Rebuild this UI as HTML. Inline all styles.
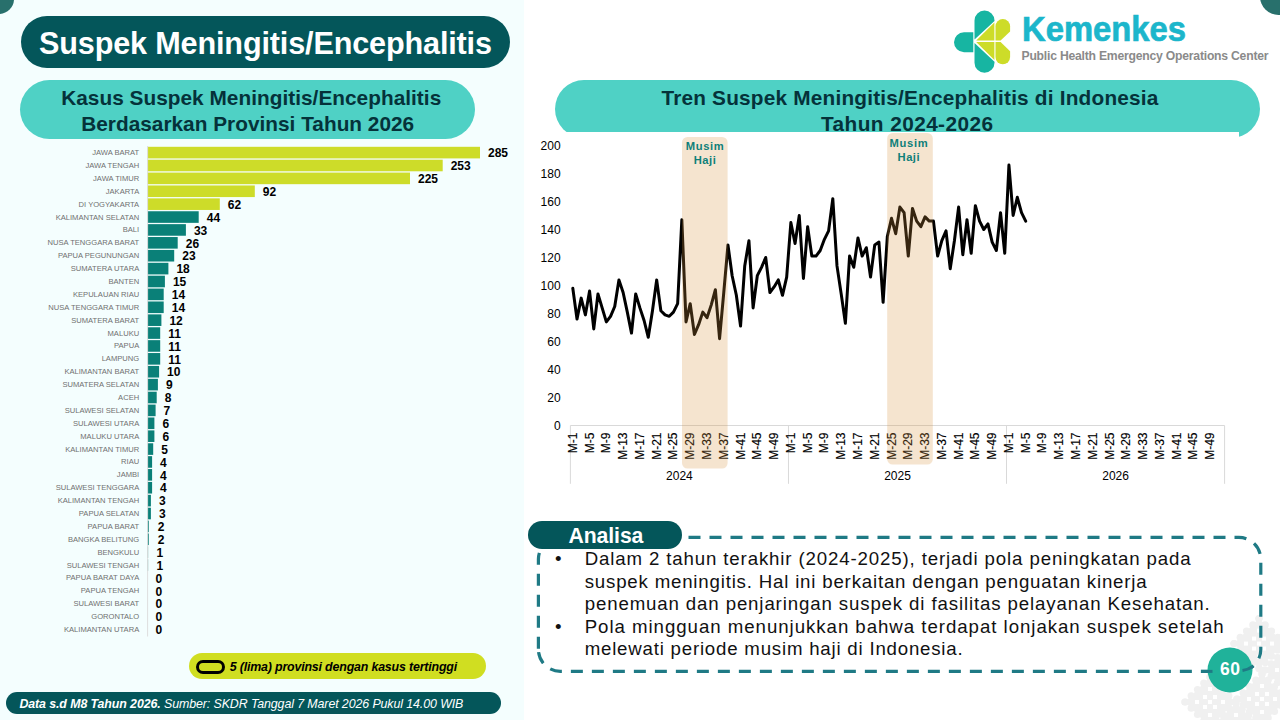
<!DOCTYPE html>
<html lang="id"><head><meta charset="utf-8"><title>Suspek Meningitis/Encephalitis</title>
<style>
html,body{margin:0;padding:0}
body{width:1280px;height:720px;overflow:hidden;position:relative;background:#fff;font-family:"Liberation Sans",sans-serif}
.abs,.t{position:absolute}
.t{white-space:nowrap}
.pill{position:absolute;border-radius:999px}
svg{position:absolute;left:0;top:0}
</style></head><body>

<div class="abs" style="left:0;top:0;width:524px;height:720px;background:#f4fefe"></div>
<div class="abs" style="left:-16px;top:-16px;width:30px;height:30px;border-radius:50%;background:#28706c"></div>
<div class="abs" style="left:1260px;top:-22.5px;width:37px;height:37px;border-radius:50%;background:#28706c"></div>
<div class="pill" style="left:21px;top:16px;width:489px;height:52px;background:#04565a"></div>
<div class="t" id="title" style="top:28.10px;font-size:30.6px;line-height:30.6px;font-weight:700;color:#fff;letter-spacing:-0.149px;font-family:'Liberation Sans',sans-serif;left:39.00px;"><span>Suspek Meningitis/Encephalitis</span></div>
<div class="pill" style="left:19.5px;top:80px;width:455px;height:59px;background:#4fd1c5"></div>
<div class="t" id="lh1" style="top:87.89px;font-size:20.8px;line-height:20.8px;font-weight:700;color:#05323a;letter-spacing:0.027px;font-family:'Liberation Sans',sans-serif;left:61.20px;"><span>Kasus Suspek Meningitis/Encephalitis</span></div>
<div class="t" id="lh2" style="top:113.89px;font-size:20.8px;line-height:20.8px;font-weight:700;color:#05323a;letter-spacing:0.016px;font-family:'Liberation Sans',sans-serif;left:81.20px;"><span>Berdasarkan Provinsi Tahun 2026</span></div>
<div class="pill" style="left:555px;top:80px;width:705px;height:58px;background:#4fd1c5"></div>
<div class="t" id="rh1" style="top:88.09px;font-size:20.8px;line-height:20.8px;font-weight:700;color:#05323a;letter-spacing:0.198px;font-family:'Liberation Sans',sans-serif;left:661.40px;"><span>Tren Suspek Meningitis/Encephalitis di Indonesia</span></div>
<div class="t" id="rh2" style="top:113.99px;font-size:20.8px;line-height:20.8px;font-weight:700;color:#05323a;letter-spacing:0.424px;font-family:'Liberation Sans',sans-serif;left:821.00px;"><span>Tahun 2024-2026</span></div>
<div class="abs" style="left:530px;top:131.5px;width:709px;height:370px;background:#fff"></div>
<svg width="1280" height="720" viewBox="0 0 1280 720">
<rect x="147.4" y="146.80" width="332.6" height="11.6" fill="#cddc29"/>
<rect x="147.4" y="159.69" width="295.3" height="11.6" fill="#cddc29"/>
<rect x="147.4" y="172.58" width="262.6" height="11.6" fill="#cddc29"/>
<rect x="147.4" y="185.47" width="107.4" height="11.6" fill="#cddc29"/>
<rect x="147.4" y="198.36" width="72.4" height="11.6" fill="#cddc29"/>
<rect x="147.4" y="211.25" width="51.3" height="11.6" fill="#0a8078"/>
<rect x="147.4" y="224.14" width="38.5" height="11.6" fill="#0a8078"/>
<rect x="147.4" y="237.03" width="30.3" height="11.6" fill="#0a8078"/>
<rect x="147.4" y="249.92" width="26.8" height="11.6" fill="#0a8078"/>
<rect x="147.4" y="262.81" width="21.0" height="11.6" fill="#0a8078"/>
<rect x="147.4" y="275.70" width="17.5" height="11.6" fill="#0a8078"/>
<rect x="147.4" y="288.59" width="16.3" height="11.6" fill="#0a8078"/>
<rect x="147.4" y="301.48" width="16.3" height="11.6" fill="#0a8078"/>
<rect x="147.4" y="314.37" width="14.0" height="11.6" fill="#0a8078"/>
<rect x="147.4" y="327.26" width="12.8" height="11.6" fill="#0a8078"/>
<rect x="147.4" y="340.15" width="12.8" height="11.6" fill="#0a8078"/>
<rect x="147.4" y="353.04" width="12.8" height="11.6" fill="#0a8078"/>
<rect x="147.4" y="365.93" width="11.7" height="11.6" fill="#0a8078"/>
<rect x="147.4" y="378.82" width="10.5" height="11.6" fill="#0a8078"/>
<rect x="147.4" y="391.71" width="9.3" height="11.6" fill="#0a8078"/>
<rect x="147.4" y="404.60" width="8.2" height="11.6" fill="#0a8078"/>
<rect x="147.4" y="417.49" width="7.0" height="11.6" fill="#0a8078"/>
<rect x="147.4" y="430.38" width="7.0" height="11.6" fill="#0a8078"/>
<rect x="147.4" y="443.27" width="5.8" height="11.6" fill="#0a8078"/>
<rect x="147.4" y="456.16" width="4.7" height="11.6" fill="#0a8078"/>
<rect x="147.4" y="469.05" width="4.7" height="11.6" fill="#0a8078"/>
<rect x="147.4" y="481.94" width="4.7" height="11.6" fill="#0a8078"/>
<rect x="147.4" y="494.83" width="3.5" height="11.6" fill="#0a8078"/>
<rect x="147.4" y="507.72" width="3.5" height="11.6" fill="#0a8078"/>
<rect x="147.4" y="520.61" width="1.4" height="11.6" fill="#0a8078"/>
<rect x="147.4" y="533.50" width="1.4" height="11.6" fill="#0a8078"/>
<rect x="147.4" y="546.39" width="0.7" height="11.6" fill="#0a8078"/>
<rect x="147.4" y="559.28" width="0.7" height="11.6" fill="#0a8078"/>
<path d="M147.6 146 V636.5" stroke="#dedede" stroke-width="1"/>
</svg>
<div class="t" id="pl0" style="top:149.07px;font-size:7.6px;line-height:7.6px;font-weight:400;color:#707070;letter-spacing:0.000px;font-family:'Liberation Sans',sans-serif;right:1140.80px;"><span>JAWA BARAT</span></div>
<div class="t" id="pv0" style="top:147.34px;font-size:12px;line-height:12px;font-weight:700;color:#000;letter-spacing:0.000px;font-family:'Liberation Sans',sans-serif;left:488.00px;"><span>285</span></div>
<div class="t" id="pl1" style="top:161.96px;font-size:7.6px;line-height:7.6px;font-weight:400;color:#707070;letter-spacing:0.000px;font-family:'Liberation Sans',sans-serif;right:1140.80px;"><span>JAWA TENGAH</span></div>
<div class="t" id="pv1" style="top:160.23px;font-size:12px;line-height:12px;font-weight:700;color:#000;letter-spacing:0.000px;font-family:'Liberation Sans',sans-serif;left:450.65px;"><span>253</span></div>
<div class="t" id="pl2" style="top:174.85px;font-size:7.6px;line-height:7.6px;font-weight:400;color:#707070;letter-spacing:0.000px;font-family:'Liberation Sans',sans-serif;right:1140.80px;"><span>JAWA TIMUR</span></div>
<div class="t" id="pv2" style="top:173.12px;font-size:12px;line-height:12px;font-weight:700;color:#000;letter-spacing:0.000px;font-family:'Liberation Sans',sans-serif;left:417.98px;"><span>225</span></div>
<div class="t" id="pl3" style="top:187.74px;font-size:7.6px;line-height:7.6px;font-weight:400;color:#707070;letter-spacing:0.000px;font-family:'Liberation Sans',sans-serif;right:1140.80px;"><span>JAKARTA</span></div>
<div class="t" id="pv3" style="top:186.01px;font-size:12px;line-height:12px;font-weight:700;color:#000;letter-spacing:0.000px;font-family:'Liberation Sans',sans-serif;left:262.76px;"><span>92</span></div>
<div class="t" id="pl4" style="top:200.63px;font-size:7.6px;line-height:7.6px;font-weight:400;color:#707070;letter-spacing:0.000px;font-family:'Liberation Sans',sans-serif;right:1140.80px;"><span>DI YOGYAKARTA</span></div>
<div class="t" id="pv4" style="top:198.90px;font-size:12px;line-height:12px;font-weight:700;color:#000;letter-spacing:0.000px;font-family:'Liberation Sans',sans-serif;left:227.75px;"><span>62</span></div>
<div class="t" id="pl5" style="top:213.52px;font-size:7.6px;line-height:7.6px;font-weight:400;color:#707070;letter-spacing:0.000px;font-family:'Liberation Sans',sans-serif;right:1140.80px;"><span>KALIMANTAN SELATAN</span></div>
<div class="t" id="pv5" style="top:211.79px;font-size:12px;line-height:12px;font-weight:700;color:#000;letter-spacing:0.000px;font-family:'Liberation Sans',sans-serif;left:206.75px;"><span>44</span></div>
<div class="t" id="pl6" style="top:226.41px;font-size:7.6px;line-height:7.6px;font-weight:400;color:#707070;letter-spacing:0.000px;font-family:'Liberation Sans',sans-serif;right:1140.80px;"><span>BALI</span></div>
<div class="t" id="pv6" style="top:224.68px;font-size:12px;line-height:12px;font-weight:700;color:#000;letter-spacing:0.000px;font-family:'Liberation Sans',sans-serif;left:193.91px;"><span>33</span></div>
<div class="t" id="pl7" style="top:239.30px;font-size:7.6px;line-height:7.6px;font-weight:400;color:#707070;letter-spacing:0.000px;font-family:'Liberation Sans',sans-serif;right:1140.80px;"><span>NUSA TENGGARA BARAT</span></div>
<div class="t" id="pv7" style="top:237.57px;font-size:12px;line-height:12px;font-weight:700;color:#000;letter-spacing:0.000px;font-family:'Liberation Sans',sans-serif;left:185.74px;"><span>26</span></div>
<div class="t" id="pl8" style="top:252.19px;font-size:7.6px;line-height:7.6px;font-weight:400;color:#707070;letter-spacing:0.000px;font-family:'Liberation Sans',sans-serif;right:1140.80px;"><span>PAPUA PEGUNUNGAN</span></div>
<div class="t" id="pv8" style="top:250.46px;font-size:12px;line-height:12px;font-weight:700;color:#000;letter-spacing:0.000px;font-family:'Liberation Sans',sans-serif;left:182.24px;"><span>23</span></div>
<div class="t" id="pl9" style="top:265.08px;font-size:7.6px;line-height:7.6px;font-weight:400;color:#707070;letter-spacing:0.000px;font-family:'Liberation Sans',sans-serif;right:1140.80px;"><span>SUMATERA UTARA</span></div>
<div class="t" id="pv9" style="top:263.35px;font-size:12px;line-height:12px;font-weight:700;color:#000;letter-spacing:0.000px;font-family:'Liberation Sans',sans-serif;left:176.41px;"><span>18</span></div>
<div class="t" id="pl10" style="top:277.97px;font-size:7.6px;line-height:7.6px;font-weight:400;color:#707070;letter-spacing:0.000px;font-family:'Liberation Sans',sans-serif;right:1140.80px;"><span>BANTEN</span></div>
<div class="t" id="pv10" style="top:276.24px;font-size:12px;line-height:12px;font-weight:700;color:#000;letter-spacing:0.000px;font-family:'Liberation Sans',sans-serif;left:172.91px;"><span>15</span></div>
<div class="t" id="pl11" style="top:290.86px;font-size:7.6px;line-height:7.6px;font-weight:400;color:#707070;letter-spacing:0.000px;font-family:'Liberation Sans',sans-serif;right:1140.80px;"><span>KEPULAUAN RIAU</span></div>
<div class="t" id="pv11" style="top:289.13px;font-size:12px;line-height:12px;font-weight:700;color:#000;letter-spacing:0.000px;font-family:'Liberation Sans',sans-serif;left:171.74px;"><span>14</span></div>
<div class="t" id="pl12" style="top:303.75px;font-size:7.6px;line-height:7.6px;font-weight:400;color:#707070;letter-spacing:0.000px;font-family:'Liberation Sans',sans-serif;right:1140.80px;"><span>NUSA TENGGARA TIMUR</span></div>
<div class="t" id="pv12" style="top:302.02px;font-size:12px;line-height:12px;font-weight:700;color:#000;letter-spacing:0.000px;font-family:'Liberation Sans',sans-serif;left:171.74px;"><span>14</span></div>
<div class="t" id="pl13" style="top:316.64px;font-size:7.6px;line-height:7.6px;font-weight:400;color:#707070;letter-spacing:0.000px;font-family:'Liberation Sans',sans-serif;right:1140.80px;"><span>SUMATERA BARAT</span></div>
<div class="t" id="pv13" style="top:314.91px;font-size:12px;line-height:12px;font-weight:700;color:#000;letter-spacing:0.000px;font-family:'Liberation Sans',sans-serif;left:169.40px;"><span>12</span></div>
<div class="t" id="pl14" style="top:329.53px;font-size:7.6px;line-height:7.6px;font-weight:400;color:#707070;letter-spacing:0.000px;font-family:'Liberation Sans',sans-serif;right:1140.80px;"><span>MALUKU</span></div>
<div class="t" id="pv14" style="top:327.80px;font-size:12px;line-height:12px;font-weight:700;color:#000;letter-spacing:0.000px;font-family:'Liberation Sans',sans-serif;left:168.24px;"><span>11</span></div>
<div class="t" id="pl15" style="top:342.42px;font-size:7.6px;line-height:7.6px;font-weight:400;color:#707070;letter-spacing:0.000px;font-family:'Liberation Sans',sans-serif;right:1140.80px;"><span>PAPUA</span></div>
<div class="t" id="pv15" style="top:340.69px;font-size:12px;line-height:12px;font-weight:700;color:#000;letter-spacing:0.000px;font-family:'Liberation Sans',sans-serif;left:168.24px;"><span>11</span></div>
<div class="t" id="pl16" style="top:355.31px;font-size:7.6px;line-height:7.6px;font-weight:400;color:#707070;letter-spacing:0.000px;font-family:'Liberation Sans',sans-serif;right:1140.80px;"><span>LAMPUNG</span></div>
<div class="t" id="pv16" style="top:353.58px;font-size:12px;line-height:12px;font-weight:700;color:#000;letter-spacing:0.000px;font-family:'Liberation Sans',sans-serif;left:168.24px;"><span>11</span></div>
<div class="t" id="pl17" style="top:368.20px;font-size:7.6px;line-height:7.6px;font-weight:400;color:#707070;letter-spacing:0.000px;font-family:'Liberation Sans',sans-serif;right:1140.80px;"><span>KALIMANTAN BARAT</span></div>
<div class="t" id="pv17" style="top:366.47px;font-size:12px;line-height:12px;font-weight:700;color:#000;letter-spacing:0.000px;font-family:'Liberation Sans',sans-serif;left:167.07px;"><span>10</span></div>
<div class="t" id="pl18" style="top:381.09px;font-size:7.6px;line-height:7.6px;font-weight:400;color:#707070;letter-spacing:0.000px;font-family:'Liberation Sans',sans-serif;right:1140.80px;"><span>SUMATERA SELATAN</span></div>
<div class="t" id="pv18" style="top:379.36px;font-size:12px;line-height:12px;font-weight:700;color:#000;letter-spacing:0.000px;font-family:'Liberation Sans',sans-serif;left:165.90px;"><span>9</span></div>
<div class="t" id="pl19" style="top:393.98px;font-size:7.6px;line-height:7.6px;font-weight:400;color:#707070;letter-spacing:0.000px;font-family:'Liberation Sans',sans-serif;right:1140.80px;"><span>ACEH</span></div>
<div class="t" id="pv19" style="top:392.25px;font-size:12px;line-height:12px;font-weight:700;color:#000;letter-spacing:0.000px;font-family:'Liberation Sans',sans-serif;left:164.74px;"><span>8</span></div>
<div class="t" id="pl20" style="top:406.87px;font-size:7.6px;line-height:7.6px;font-weight:400;color:#707070;letter-spacing:0.000px;font-family:'Liberation Sans',sans-serif;right:1140.80px;"><span>SULAWESI SELATAN</span></div>
<div class="t" id="pv20" style="top:405.14px;font-size:12px;line-height:12px;font-weight:700;color:#000;letter-spacing:0.000px;font-family:'Liberation Sans',sans-serif;left:163.57px;"><span>7</span></div>
<div class="t" id="pl21" style="top:419.76px;font-size:7.6px;line-height:7.6px;font-weight:400;color:#707070;letter-spacing:0.000px;font-family:'Liberation Sans',sans-serif;right:1140.80px;"><span>SULAWESI UTARA</span></div>
<div class="t" id="pv21" style="top:418.03px;font-size:12px;line-height:12px;font-weight:700;color:#000;letter-spacing:0.000px;font-family:'Liberation Sans',sans-serif;left:162.40px;"><span>6</span></div>
<div class="t" id="pl22" style="top:432.65px;font-size:7.6px;line-height:7.6px;font-weight:400;color:#707070;letter-spacing:0.000px;font-family:'Liberation Sans',sans-serif;right:1140.80px;"><span>MALUKU UTARA</span></div>
<div class="t" id="pv22" style="top:430.92px;font-size:12px;line-height:12px;font-weight:700;color:#000;letter-spacing:0.000px;font-family:'Liberation Sans',sans-serif;left:162.40px;"><span>6</span></div>
<div class="t" id="pl23" style="top:445.54px;font-size:7.6px;line-height:7.6px;font-weight:400;color:#707070;letter-spacing:0.000px;font-family:'Liberation Sans',sans-serif;right:1140.80px;"><span>KALIMANTAN TIMUR</span></div>
<div class="t" id="pv23" style="top:443.81px;font-size:12px;line-height:12px;font-weight:700;color:#000;letter-spacing:0.000px;font-family:'Liberation Sans',sans-serif;left:161.24px;"><span>5</span></div>
<div class="t" id="pl24" style="top:458.43px;font-size:7.6px;line-height:7.6px;font-weight:400;color:#707070;letter-spacing:0.000px;font-family:'Liberation Sans',sans-serif;right:1140.80px;"><span>RIAU</span></div>
<div class="t" id="pv24" style="top:456.70px;font-size:12px;line-height:12px;font-weight:700;color:#000;letter-spacing:0.000px;font-family:'Liberation Sans',sans-serif;left:160.07px;"><span>4</span></div>
<div class="t" id="pl25" style="top:471.32px;font-size:7.6px;line-height:7.6px;font-weight:400;color:#707070;letter-spacing:0.000px;font-family:'Liberation Sans',sans-serif;right:1140.80px;"><span>JAMBI</span></div>
<div class="t" id="pv25" style="top:469.59px;font-size:12px;line-height:12px;font-weight:700;color:#000;letter-spacing:0.000px;font-family:'Liberation Sans',sans-serif;left:160.07px;"><span>4</span></div>
<div class="t" id="pl26" style="top:484.21px;font-size:7.6px;line-height:7.6px;font-weight:400;color:#707070;letter-spacing:0.000px;font-family:'Liberation Sans',sans-serif;right:1140.80px;"><span>SULAWESI TENGGARA</span></div>
<div class="t" id="pv26" style="top:482.48px;font-size:12px;line-height:12px;font-weight:700;color:#000;letter-spacing:0.000px;font-family:'Liberation Sans',sans-serif;left:160.07px;"><span>4</span></div>
<div class="t" id="pl27" style="top:497.10px;font-size:7.6px;line-height:7.6px;font-weight:400;color:#707070;letter-spacing:0.000px;font-family:'Liberation Sans',sans-serif;right:1140.80px;"><span>KALIMANTAN TENGAH</span></div>
<div class="t" id="pv27" style="top:495.37px;font-size:12px;line-height:12px;font-weight:700;color:#000;letter-spacing:0.000px;font-family:'Liberation Sans',sans-serif;left:158.90px;"><span>3</span></div>
<div class="t" id="pl28" style="top:509.99px;font-size:7.6px;line-height:7.6px;font-weight:400;color:#707070;letter-spacing:0.000px;font-family:'Liberation Sans',sans-serif;right:1140.80px;"><span>PAPUA SELATAN</span></div>
<div class="t" id="pv28" style="top:508.26px;font-size:12px;line-height:12px;font-weight:700;color:#000;letter-spacing:0.000px;font-family:'Liberation Sans',sans-serif;left:158.90px;"><span>3</span></div>
<div class="t" id="pl29" style="top:522.88px;font-size:7.6px;line-height:7.6px;font-weight:400;color:#707070;letter-spacing:0.000px;font-family:'Liberation Sans',sans-serif;right:1140.80px;"><span>PAPUA BARAT</span></div>
<div class="t" id="pv29" style="top:521.15px;font-size:12px;line-height:12px;font-weight:700;color:#000;letter-spacing:0.000px;font-family:'Liberation Sans',sans-serif;left:157.73px;"><span>2</span></div>
<div class="t" id="pl30" style="top:535.77px;font-size:7.6px;line-height:7.6px;font-weight:400;color:#707070;letter-spacing:0.000px;font-family:'Liberation Sans',sans-serif;right:1140.80px;"><span>BANGKA BELITUNG</span></div>
<div class="t" id="pv30" style="top:534.04px;font-size:12px;line-height:12px;font-weight:700;color:#000;letter-spacing:0.000px;font-family:'Liberation Sans',sans-serif;left:157.73px;"><span>2</span></div>
<div class="t" id="pl31" style="top:548.66px;font-size:7.6px;line-height:7.6px;font-weight:400;color:#707070;letter-spacing:0.000px;font-family:'Liberation Sans',sans-serif;right:1140.80px;"><span>BENGKULU</span></div>
<div class="t" id="pv31" style="top:546.93px;font-size:12px;line-height:12px;font-weight:700;color:#000;letter-spacing:0.000px;font-family:'Liberation Sans',sans-serif;left:156.57px;"><span>1</span></div>
<div class="t" id="pl32" style="top:561.55px;font-size:7.6px;line-height:7.6px;font-weight:400;color:#707070;letter-spacing:0.000px;font-family:'Liberation Sans',sans-serif;right:1140.80px;"><span>SULAWESI TENGAH</span></div>
<div class="t" id="pv32" style="top:559.82px;font-size:12px;line-height:12px;font-weight:700;color:#000;letter-spacing:0.000px;font-family:'Liberation Sans',sans-serif;left:156.57px;"><span>1</span></div>
<div class="t" id="pl33" style="top:574.44px;font-size:7.6px;line-height:7.6px;font-weight:400;color:#707070;letter-spacing:0.000px;font-family:'Liberation Sans',sans-serif;right:1140.80px;"><span>PAPUA BARAT DAYA</span></div>
<div class="t" id="pv33" style="top:572.71px;font-size:12px;line-height:12px;font-weight:700;color:#000;letter-spacing:0.000px;font-family:'Liberation Sans',sans-serif;left:155.40px;"><span>0</span></div>
<div class="t" id="pl34" style="top:587.33px;font-size:7.6px;line-height:7.6px;font-weight:400;color:#707070;letter-spacing:0.000px;font-family:'Liberation Sans',sans-serif;right:1140.80px;"><span>PAPUA TENGAH</span></div>
<div class="t" id="pv34" style="top:585.60px;font-size:12px;line-height:12px;font-weight:700;color:#000;letter-spacing:0.000px;font-family:'Liberation Sans',sans-serif;left:155.40px;"><span>0</span></div>
<div class="t" id="pl35" style="top:600.22px;font-size:7.6px;line-height:7.6px;font-weight:400;color:#707070;letter-spacing:0.000px;font-family:'Liberation Sans',sans-serif;right:1140.80px;"><span>SULAWESI BARAT</span></div>
<div class="t" id="pv35" style="top:598.49px;font-size:12px;line-height:12px;font-weight:700;color:#000;letter-spacing:0.000px;font-family:'Liberation Sans',sans-serif;left:155.40px;"><span>0</span></div>
<div class="t" id="pl36" style="top:613.11px;font-size:7.6px;line-height:7.6px;font-weight:400;color:#707070;letter-spacing:0.000px;font-family:'Liberation Sans',sans-serif;right:1140.80px;"><span>GORONTALO</span></div>
<div class="t" id="pv36" style="top:611.38px;font-size:12px;line-height:12px;font-weight:700;color:#000;letter-spacing:0.000px;font-family:'Liberation Sans',sans-serif;left:155.40px;"><span>0</span></div>
<div class="t" id="pl37" style="top:626.00px;font-size:7.6px;line-height:7.6px;font-weight:400;color:#707070;letter-spacing:0.000px;font-family:'Liberation Sans',sans-serif;right:1140.80px;"><span>KALIMANTAN UTARA</span></div>
<div class="t" id="pv37" style="top:624.27px;font-size:12px;line-height:12px;font-weight:700;color:#000;letter-spacing:0.000px;font-family:'Liberation Sans',sans-serif;left:155.40px;"><span>0</span></div>
<div class="pill" style="left:189.4px;top:652.8px;width:296.6px;height:26px;background:#d0de21"></div>
<div class="abs" style="left:196.2px;top:660px;width:22.8px;height:7.5px;border:3px solid #000;border-radius:7px"></div>
<div class="t" id="leg" style="top:660.70px;font-size:12.4px;line-height:12.4px;font-weight:700;color:#000;letter-spacing:-0.169px;font-family:'Liberation Sans',sans-serif;font-style:italic;left:229.70px;"><span>5 (lima) provinsi dengan kasus tertinggi</span></div>
<div class="pill" style="left:6px;top:692px;width:495px;height:22px;background:#04565a"></div>
<div class="t" id="foot" style="left:19.4px;top:697.70px;font-size:12.4px;line-height:12.4px;color:#fff;font-style:italic;letter-spacing:-0.096px"><span><b>Data s.d M8 Tahun 2026.</b> Sumber: SKDR Tanggal 7 Maret 2026 Pukul 14.00 WIB</span></div>
<svg width="1280" height="720" viewBox="0 0 1280 720">
<g id="logo">
 <path d="M973.3 32.2 H964 a10 10 0 0 0 0 20 H973.3 Z" fill="#17b5a2"/>
 <path d="M974.5 39.6 V20.5 a10 10 0 0 1 20 0 V20.9 Z" fill="#17b5a2"/>
 <path d="M974.5 43 V62.8 a10 10 0 0 0 20 0 V61.7 Z" fill="#17b5a2"/>
 <path d="M976.2 40.6 L994.4 22.6 V40.6 Z" fill="#cddc29"/>
 <path d="M976.2 41.9 L994.4 60 V41.9 Z" fill="#cddc29"/>
 <path d="M995.5 40.6 V26.3 a7.3 7.3 0 0 1 14.6 0 V31.5 L1000.6 40.6 Z" fill="#cddc29"/>
 <path d="M995.5 41.9 V57 a7.3 7.3 0 0 0 14.6 0 V51.2 L1000.6 41.9 Z" fill="#cddc29"/>
</g>
</svg>
<div class="t" id="kem" style="top:11.37px;font-size:35px;line-height:35px;font-weight:700;color:#1cb6cb;letter-spacing:0.000px;font-family:'Liberation Sans',sans-serif;left:1021.80px;-webkit-text-stroke:0.7px #1cb6cb;transform:scaleX(0.937);transform-origin:0 50%;"><span>Kemenkes</span></div>
<div class="t" id="phe" style="top:50.27px;font-size:12.2px;line-height:12.2px;font-weight:700;color:#8a8a8a;letter-spacing:-0.225px;font-family:'Liberation Sans',sans-serif;left:1021.50px;"><span>Public Health Emergency Operations Center</span></div>
<svg width="1280" height="720" viewBox="0 0 1280 720" font-family="Liberation Sans, sans-serif">
<path d="M570.4 425.5 H1224.6" stroke="#d9d9d9" stroke-width="1" fill="none"/>
<path d="M570.40 425.5 V483.8" stroke="#d9d9d9" stroke-width="1" fill="none"/>
<path d="M788.47 425.5 V483.8" stroke="#d9d9d9" stroke-width="1" fill="none"/>
<path d="M1006.53 425.5 V483.8" stroke="#d9d9d9" stroke-width="1" fill="none"/>
<path d="M1224.60 425.5 V483.8" stroke="#d9d9d9" stroke-width="1" fill="none"/>
<polyline points="572.80,288.30 576.99,319.10 581.18,298.10 585.38,314.90 589.57,291.10 593.76,328.90 597.96,293.90 602.15,307.90 606.35,321.90 610.54,316.30 614.73,306.50 618.93,279.90 623.12,292.50 627.31,312.10 631.51,333.10 635.70,293.90 639.89,307.90 644.09,320.50 648.28,337.30 652.47,310.70 656.67,279.90 660.86,310.70 665.06,314.90 669.25,316.30 673.44,312.10 677.64,303.70 681.83,219.70 686.02,321.90 690.22,303.70 694.41,334.50 698.60,324.70 702.80,312.10 706.99,317.70 711.19,305.10 715.38,289.70 719.57,338.70 723.77,292.50 727.96,244.90 732.15,275.70 736.35,295.30 740.54,326.10 744.73,265.90 748.93,240.70 753.12,307.90 757.31,275.70 761.51,267.30 765.70,257.50 769.90,292.50 774.09,286.90 778.28,279.90 782.48,295.30 786.67,277.10 790.86,222.50 795.06,243.50 799.25,215.50 803.44,278.50 807.64,226.70 811.83,256.10 816.02,256.10 820.22,250.50 824.41,239.30 828.61,230.90 832.80,198.70 836.99,265.90 841.19,293.90 845.38,323.30 849.57,256.10 853.77,267.30 857.96,237.90 862.15,256.10 866.35,247.70 870.54,277.10 874.74,244.90 878.93,242.10 883.12,302.30 887.32,236.50 891.51,218.30 895.70,233.70 899.90,207.10 904.09,212.70 908.28,256.10 912.48,208.50 916.67,221.10 920.86,226.70 925.06,216.90 929.25,221.10 933.45,221.10 937.64,256.10 941.83,240.70 946.03,230.90 950.22,268.70 954.41,240.70 958.61,207.10 962.80,254.70 966.99,219.70 971.19,253.30 975.38,205.70 979.57,221.10 983.77,229.50 987.96,223.90 992.16,242.10 996.35,250.50 1000.54,212.70 1004.74,253.30 1008.93,165.10 1013.12,215.50 1017.32,197.30 1021.51,212.70 1025.70,221.10" fill="none" stroke="#000" stroke-width="3" stroke-linejoin="round" stroke-linecap="round"/>
<text x="560.6" y="429.80" font-size="12" text-anchor="end" fill="#000">0</text>
<text x="560.6" y="401.80" font-size="12" text-anchor="end" fill="#000">20</text>
<text x="560.6" y="373.80" font-size="12" text-anchor="end" fill="#000">40</text>
<text x="560.6" y="345.80" font-size="12" text-anchor="end" fill="#000">60</text>
<text x="560.6" y="317.80" font-size="12" text-anchor="end" fill="#000">80</text>
<text x="560.6" y="289.80" font-size="12" text-anchor="end" fill="#000">100</text>
<text x="560.6" y="261.80" font-size="12" text-anchor="end" fill="#000">120</text>
<text x="560.6" y="233.80" font-size="12" text-anchor="end" fill="#000">140</text>
<text x="560.6" y="205.80" font-size="12" text-anchor="end" fill="#000">160</text>
<text x="560.6" y="177.80" font-size="12" text-anchor="end" fill="#000">180</text>
<text x="560.6" y="149.80" font-size="12" text-anchor="end" fill="#000">200</text>
<text transform="translate(576.80,432.5) rotate(-90)" font-size="12" text-anchor="end" fill="#000" stroke="#000" stroke-width="0.15">M-1</text>
<text transform="translate(593.57,432.5) rotate(-90)" font-size="12" text-anchor="end" fill="#000" stroke="#000" stroke-width="0.15">M-5</text>
<text transform="translate(610.35,432.5) rotate(-90)" font-size="12" text-anchor="end" fill="#000" stroke="#000" stroke-width="0.15">M-9</text>
<text transform="translate(627.12,432.5) rotate(-90)" font-size="12" text-anchor="end" fill="#000" stroke="#000" stroke-width="0.15">M-13</text>
<text transform="translate(643.89,432.5) rotate(-90)" font-size="12" text-anchor="end" fill="#000" stroke="#000" stroke-width="0.15">M-17</text>
<text transform="translate(660.67,432.5) rotate(-90)" font-size="12" text-anchor="end" fill="#000" stroke="#000" stroke-width="0.15">M-21</text>
<text transform="translate(677.44,432.5) rotate(-90)" font-size="12" text-anchor="end" fill="#000" stroke="#000" stroke-width="0.15">M-25</text>
<text transform="translate(694.22,432.5) rotate(-90)" font-size="12" text-anchor="end" fill="#000" stroke="#000" stroke-width="0.15">M-29</text>
<text transform="translate(710.99,432.5) rotate(-90)" font-size="12" text-anchor="end" fill="#000" stroke="#000" stroke-width="0.15">M-33</text>
<text transform="translate(727.77,432.5) rotate(-90)" font-size="12" text-anchor="end" fill="#000" stroke="#000" stroke-width="0.15">M-37</text>
<text transform="translate(744.54,432.5) rotate(-90)" font-size="12" text-anchor="end" fill="#000" stroke="#000" stroke-width="0.15">M-41</text>
<text transform="translate(761.31,432.5) rotate(-90)" font-size="12" text-anchor="end" fill="#000" stroke="#000" stroke-width="0.15">M-45</text>
<text transform="translate(778.09,432.5) rotate(-90)" font-size="12" text-anchor="end" fill="#000" stroke="#000" stroke-width="0.15">M-49</text>
<text x="679.43" y="479.8" font-size="12" text-anchor="middle" fill="#000">2024</text>
<text transform="translate(794.86,432.5) rotate(-90)" font-size="12" text-anchor="end" fill="#000" stroke="#000" stroke-width="0.15">M-1</text>
<text transform="translate(811.64,432.5) rotate(-90)" font-size="12" text-anchor="end" fill="#000" stroke="#000" stroke-width="0.15">M-5</text>
<text transform="translate(828.41,432.5) rotate(-90)" font-size="12" text-anchor="end" fill="#000" stroke="#000" stroke-width="0.15">M-9</text>
<text transform="translate(845.19,432.5) rotate(-90)" font-size="12" text-anchor="end" fill="#000" stroke="#000" stroke-width="0.15">M-13</text>
<text transform="translate(861.96,432.5) rotate(-90)" font-size="12" text-anchor="end" fill="#000" stroke="#000" stroke-width="0.15">M-17</text>
<text transform="translate(878.74,432.5) rotate(-90)" font-size="12" text-anchor="end" fill="#000" stroke="#000" stroke-width="0.15">M-21</text>
<text transform="translate(895.51,432.5) rotate(-90)" font-size="12" text-anchor="end" fill="#000" stroke="#000" stroke-width="0.15">M-25</text>
<text transform="translate(912.28,432.5) rotate(-90)" font-size="12" text-anchor="end" fill="#000" stroke="#000" stroke-width="0.15">M-29</text>
<text transform="translate(929.06,432.5) rotate(-90)" font-size="12" text-anchor="end" fill="#000" stroke="#000" stroke-width="0.15">M-33</text>
<text transform="translate(945.83,432.5) rotate(-90)" font-size="12" text-anchor="end" fill="#000" stroke="#000" stroke-width="0.15">M-37</text>
<text transform="translate(962.61,432.5) rotate(-90)" font-size="12" text-anchor="end" fill="#000" stroke="#000" stroke-width="0.15">M-41</text>
<text transform="translate(979.38,432.5) rotate(-90)" font-size="12" text-anchor="end" fill="#000" stroke="#000" stroke-width="0.15">M-45</text>
<text transform="translate(996.16,432.5) rotate(-90)" font-size="12" text-anchor="end" fill="#000" stroke="#000" stroke-width="0.15">M-49</text>
<text x="897.50" y="479.8" font-size="12" text-anchor="middle" fill="#000">2025</text>
<text transform="translate(1012.93,432.5) rotate(-90)" font-size="12" text-anchor="end" fill="#000" stroke="#000" stroke-width="0.15">M-1</text>
<text transform="translate(1029.70,432.5) rotate(-90)" font-size="12" text-anchor="end" fill="#000" stroke="#000" stroke-width="0.15">M-5</text>
<text transform="translate(1046.48,432.5) rotate(-90)" font-size="12" text-anchor="end" fill="#000" stroke="#000" stroke-width="0.15">M-9</text>
<text transform="translate(1063.25,432.5) rotate(-90)" font-size="12" text-anchor="end" fill="#000" stroke="#000" stroke-width="0.15">M-13</text>
<text transform="translate(1080.03,432.5) rotate(-90)" font-size="12" text-anchor="end" fill="#000" stroke="#000" stroke-width="0.15">M-17</text>
<text transform="translate(1096.80,432.5) rotate(-90)" font-size="12" text-anchor="end" fill="#000" stroke="#000" stroke-width="0.15">M-21</text>
<text transform="translate(1113.58,432.5) rotate(-90)" font-size="12" text-anchor="end" fill="#000" stroke="#000" stroke-width="0.15">M-25</text>
<text transform="translate(1130.35,432.5) rotate(-90)" font-size="12" text-anchor="end" fill="#000" stroke="#000" stroke-width="0.15">M-29</text>
<text transform="translate(1147.12,432.5) rotate(-90)" font-size="12" text-anchor="end" fill="#000" stroke="#000" stroke-width="0.15">M-33</text>
<text transform="translate(1163.90,432.5) rotate(-90)" font-size="12" text-anchor="end" fill="#000" stroke="#000" stroke-width="0.15">M-37</text>
<text transform="translate(1180.67,432.5) rotate(-90)" font-size="12" text-anchor="end" fill="#000" stroke="#000" stroke-width="0.15">M-41</text>
<text transform="translate(1197.45,432.5) rotate(-90)" font-size="12" text-anchor="end" fill="#000" stroke="#000" stroke-width="0.15">M-45</text>
<text transform="translate(1214.22,432.5) rotate(-90)" font-size="12" text-anchor="end" fill="#000" stroke="#000" stroke-width="0.15">M-49</text>
<text x="1115.57" y="479.8" font-size="12" text-anchor="middle" fill="#000">2026</text>
<rect x="682" y="137" width="45.6" height="331.5" rx="5.5" fill="#d99440" fill-opacity="0.25"/>
<rect x="887.2" y="133" width="45.6" height="331.5" rx="5.5" fill="#d99440" fill-opacity="0.25"/>
</svg>
<div class="t" id="mh0a" style="top:141.02px;font-size:11.2px;line-height:11.2px;font-weight:700;color:#0f7f79;letter-spacing:0.641px;font-family:'Liberation Sans',sans-serif;left:205.12px;width:1000px;text-align:center;"><span>Musim</span></div>
<div class="t" id="mh0b" style="top:155.02px;font-size:11.2px;line-height:11.2px;font-weight:700;color:#0f7f79;letter-spacing:0.489px;font-family:'Liberation Sans',sans-serif;left:205.04px;width:1000px;text-align:center;"><span>Haji</span></div>
<div class="t" id="mh1a" style="top:137.72px;font-size:11.2px;line-height:11.2px;font-weight:700;color:#0f7f79;letter-spacing:0.641px;font-family:'Liberation Sans',sans-serif;left:408.92px;width:1000px;text-align:center;"><span>Musim</span></div>
<div class="t" id="mh1b" style="top:151.72px;font-size:11.2px;line-height:11.2px;font-weight:700;color:#0f7f79;letter-spacing:0.489px;font-family:'Liberation Sans',sans-serif;left:408.84px;width:1000px;text-align:center;"><span>Haji</span></div>
<svg width="1280" height="720" viewBox="0 0 1280 720">
<g fill="#f0f0f0"><path d="M1210 677 L1235 702 L1210 727 L1185 702 Z"/><circle cx="1210.0" cy="677.0" r="3.6"/><circle cx="1210.0" cy="727.0" r="3.6"/><circle cx="1210.0" cy="727.0" r="3.6"/><circle cx="1210.0" cy="677.0" r="3.6"/><circle cx="1216.2" cy="683.2" r="3.6"/><circle cx="1216.2" cy="720.8" r="3.6"/><circle cx="1203.8" cy="720.8" r="3.6"/><circle cx="1203.8" cy="683.2" r="3.6"/><circle cx="1222.5" cy="689.5" r="3.6"/><circle cx="1222.5" cy="714.5" r="3.6"/><circle cx="1197.5" cy="714.5" r="3.6"/><circle cx="1197.5" cy="689.5" r="3.6"/><circle cx="1228.8" cy="695.8" r="3.6"/><circle cx="1228.8" cy="708.2" r="3.6"/><circle cx="1191.2" cy="708.2" r="3.6"/><circle cx="1191.2" cy="695.8" r="3.6"/><circle cx="1235.0" cy="702.0" r="3.6"/><circle cx="1235.0" cy="702.0" r="3.6"/><circle cx="1185.0" cy="702.0" r="3.6"/><circle cx="1185.0" cy="702.0" r="3.6"/></g><g fill="#ffffff"><rect x="1203.0" y="695.0" width="4" height="4"/><rect x="1213.0" y="695.0" width="4" height="4"/><rect x="1203.0" y="705.0" width="4" height="4"/><rect x="1213.0" y="705.0" width="4" height="4"/><rect x="1208.0" y="687.0" width="4" height="4"/><rect x="1208.0" y="713.0" width="4" height="4"/><rect x="1195.0" y="700.0" width="4" height="4"/><rect x="1221.0" y="700.0" width="4" height="4"/><rect x="1208.0" y="700.0" width="4" height="4"/></g>
<g fill="#f0f0f0"><path d="M1262 674 L1287 699 L1262 724 L1237 699 Z"/><circle cx="1262.0" cy="674.0" r="3.6"/><circle cx="1262.0" cy="724.0" r="3.6"/><circle cx="1262.0" cy="724.0" r="3.6"/><circle cx="1262.0" cy="674.0" r="3.6"/><circle cx="1268.2" cy="680.2" r="3.6"/><circle cx="1268.2" cy="717.8" r="3.6"/><circle cx="1255.8" cy="717.8" r="3.6"/><circle cx="1255.8" cy="680.2" r="3.6"/><circle cx="1274.5" cy="686.5" r="3.6"/><circle cx="1274.5" cy="711.5" r="3.6"/><circle cx="1249.5" cy="711.5" r="3.6"/><circle cx="1249.5" cy="686.5" r="3.6"/><circle cx="1280.8" cy="692.8" r="3.6"/><circle cx="1280.8" cy="705.2" r="3.6"/><circle cx="1243.2" cy="705.2" r="3.6"/><circle cx="1243.2" cy="692.8" r="3.6"/><circle cx="1287.0" cy="699.0" r="3.6"/><circle cx="1287.0" cy="699.0" r="3.6"/><circle cx="1237.0" cy="699.0" r="3.6"/><circle cx="1237.0" cy="699.0" r="3.6"/></g><g fill="#ffffff"><rect x="1255.0" y="692.0" width="4" height="4"/><rect x="1265.0" y="692.0" width="4" height="4"/><rect x="1255.0" y="702.0" width="4" height="4"/><rect x="1265.0" y="702.0" width="4" height="4"/><rect x="1260.0" y="684.0" width="4" height="4"/><rect x="1260.0" y="710.0" width="4" height="4"/><rect x="1247.0" y="697.0" width="4" height="4"/><rect x="1273.0" y="697.0" width="4" height="4"/><rect x="1260.0" y="697.0" width="4" height="4"/></g>
<g fill="#f0f0f0"><path d="M1259 618.6 L1284 643.6 L1259 668.6 L1234 643.6 Z"/><circle cx="1259.0" cy="618.6" r="3.6"/><circle cx="1259.0" cy="668.6" r="3.6"/><circle cx="1259.0" cy="668.6" r="3.6"/><circle cx="1259.0" cy="618.6" r="3.6"/><circle cx="1265.2" cy="624.9" r="3.6"/><circle cx="1265.2" cy="662.4" r="3.6"/><circle cx="1252.8" cy="662.4" r="3.6"/><circle cx="1252.8" cy="624.9" r="3.6"/><circle cx="1271.5" cy="631.1" r="3.6"/><circle cx="1271.5" cy="656.1" r="3.6"/><circle cx="1246.5" cy="656.1" r="3.6"/><circle cx="1246.5" cy="631.1" r="3.6"/><circle cx="1277.8" cy="637.4" r="3.6"/><circle cx="1277.8" cy="649.9" r="3.6"/><circle cx="1240.2" cy="649.9" r="3.6"/><circle cx="1240.2" cy="637.4" r="3.6"/><circle cx="1284.0" cy="643.6" r="3.6"/><circle cx="1284.0" cy="643.6" r="3.6"/><circle cx="1234.0" cy="643.6" r="3.6"/><circle cx="1234.0" cy="643.6" r="3.6"/></g><g fill="#ffffff"><rect x="1252.0" y="636.6" width="4" height="4"/><rect x="1262.0" y="636.6" width="4" height="4"/><rect x="1252.0" y="646.6" width="4" height="4"/><rect x="1262.0" y="646.6" width="4" height="4"/><rect x="1257.0" y="628.6" width="4" height="4"/><rect x="1257.0" y="654.6" width="4" height="4"/><rect x="1244.0" y="641.6" width="4" height="4"/><rect x="1270.0" y="641.6" width="4" height="4"/><rect x="1257.0" y="641.6" width="4" height="4"/></g>
<g fill="#f0f0f0"><path d="M1236 703 L1261 728 L1236 753 L1211 728 Z"/><circle cx="1236.0" cy="703.0" r="3.6"/><circle cx="1236.0" cy="753.0" r="3.6"/><circle cx="1236.0" cy="753.0" r="3.6"/><circle cx="1236.0" cy="703.0" r="3.6"/><circle cx="1242.2" cy="709.2" r="3.6"/><circle cx="1242.2" cy="746.8" r="3.6"/><circle cx="1229.8" cy="746.8" r="3.6"/><circle cx="1229.8" cy="709.2" r="3.6"/><circle cx="1248.5" cy="715.5" r="3.6"/><circle cx="1248.5" cy="740.5" r="3.6"/><circle cx="1223.5" cy="740.5" r="3.6"/><circle cx="1223.5" cy="715.5" r="3.6"/><circle cx="1254.8" cy="721.8" r="3.6"/><circle cx="1254.8" cy="734.2" r="3.6"/><circle cx="1217.2" cy="734.2" r="3.6"/><circle cx="1217.2" cy="721.8" r="3.6"/><circle cx="1261.0" cy="728.0" r="3.6"/><circle cx="1261.0" cy="728.0" r="3.6"/><circle cx="1211.0" cy="728.0" r="3.6"/><circle cx="1211.0" cy="728.0" r="3.6"/></g><g fill="#ffffff"><rect x="1229.0" y="721.0" width="4" height="4"/><rect x="1239.0" y="721.0" width="4" height="4"/><rect x="1229.0" y="731.0" width="4" height="4"/><rect x="1239.0" y="731.0" width="4" height="4"/><rect x="1234.0" y="713.0" width="4" height="4"/><rect x="1234.0" y="739.0" width="4" height="4"/><rect x="1221.0" y="726.0" width="4" height="4"/><rect x="1247.0" y="726.0" width="4" height="4"/><rect x="1234.0" y="726.0" width="4" height="4"/></g>
<g fill="#f0f0f0"><path d="M1290 645 L1315 670 L1290 695 L1265 670 Z"/><circle cx="1290.0" cy="645.0" r="3.6"/><circle cx="1290.0" cy="695.0" r="3.6"/><circle cx="1290.0" cy="695.0" r="3.6"/><circle cx="1290.0" cy="645.0" r="3.6"/><circle cx="1296.2" cy="651.2" r="3.6"/><circle cx="1296.2" cy="688.8" r="3.6"/><circle cx="1283.8" cy="688.8" r="3.6"/><circle cx="1283.8" cy="651.2" r="3.6"/><circle cx="1302.5" cy="657.5" r="3.6"/><circle cx="1302.5" cy="682.5" r="3.6"/><circle cx="1277.5" cy="682.5" r="3.6"/><circle cx="1277.5" cy="657.5" r="3.6"/><circle cx="1308.8" cy="663.8" r="3.6"/><circle cx="1308.8" cy="676.2" r="3.6"/><circle cx="1271.2" cy="676.2" r="3.6"/><circle cx="1271.2" cy="663.8" r="3.6"/><circle cx="1315.0" cy="670.0" r="3.6"/><circle cx="1315.0" cy="670.0" r="3.6"/><circle cx="1265.0" cy="670.0" r="3.6"/><circle cx="1265.0" cy="670.0" r="3.6"/></g><g fill="#ffffff"><rect x="1283.0" y="663.0" width="4" height="4"/><rect x="1293.0" y="663.0" width="4" height="4"/><rect x="1283.0" y="673.0" width="4" height="4"/><rect x="1293.0" y="673.0" width="4" height="4"/><rect x="1288.0" y="655.0" width="4" height="4"/><rect x="1288.0" y="681.0" width="4" height="4"/><rect x="1275.0" y="668.0" width="4" height="4"/><rect x="1301.0" y="668.0" width="4" height="4"/><rect x="1288.0" y="668.0" width="4" height="4"/></g>
</svg>
<svg width="1280" height="720" viewBox="0 0 1280 720">
<path d="M560.4 537.3 H1238.8 A22 22 0 0 1 1260.8 559.3 V649.4 A22 22 0 0 1 1238.8 671.4 H560.4 A22 22 0 0 1 538.4 649.4" fill="none" stroke="#1f7a85" stroke-width="3.2" stroke-dasharray="12 9" stroke-dashoffset="18.9"/>
<path d="M538.4 649.4 V559.3 A22 22 0 0 1 560.4 537.3" fill="none" stroke="#1f7a85" stroke-width="3.2" stroke-dasharray="12 9" stroke-dashoffset="20.35"/>
<circle cx="1230" cy="670" r="22.5" fill="#20b29a"/>
<path d="M1201 671.4 H1212.5" stroke="#1f7a85" stroke-width="3" fill="none"/>
<path d="M1242.5 670.6 Q1248.5 669.6 1253 666.2" stroke="#1f7a85" stroke-width="3" fill="none"/>
</svg>
<div class="t" id="pg" style="top:661.49px;font-size:17.5px;line-height:17.5px;font-weight:700;color:#fff;letter-spacing:0.531px;font-family:'Liberation Sans',sans-serif;left:730.27px;width:1000px;text-align:center;"><span>60</span></div>
<div class="pill" style="left:528px;top:521px;width:154px;height:27.5px;background:#04565a"></div>
<div class="t" id="ana" style="top:525.25px;font-size:21.2px;line-height:21.2px;font-weight:700;color:#fff;letter-spacing:-0.062px;font-family:'Liberation Sans',sans-serif;left:568.40px;"><span>Analisa</span></div>
<div class="t" id="an0" style="top:550.20px;font-size:18.67px;line-height:18.67px;font-weight:400;color:#111;letter-spacing:0.864px;font-family:'Liberation Sans',sans-serif;left:584.70px;"><span>Dalam 2 tahun terakhir (2024-2025), terjadi pola peningkatan pada</span></div>
<div class="t" id="an1" style="top:572.70px;font-size:18.67px;line-height:18.67px;font-weight:400;color:#111;letter-spacing:0.810px;font-family:'Liberation Sans',sans-serif;left:584.70px;"><span>suspek meningitis. Hal ini berkaitan dengan penguatan kinerja</span></div>
<div class="t" id="an2" style="top:595.20px;font-size:18.67px;line-height:18.67px;font-weight:400;color:#111;letter-spacing:0.868px;font-family:'Liberation Sans',sans-serif;left:584.70px;"><span>penemuan dan penjaringan suspek di fasilitas pelayanan Kesehatan.</span></div>
<div class="t" id="an3" style="top:617.70px;font-size:18.67px;line-height:18.67px;font-weight:400;color:#111;letter-spacing:0.957px;font-family:'Liberation Sans',sans-serif;left:584.70px;"><span>Pola mingguan menunjukkan bahwa terdapat lonjakan suspek setelah</span></div>
<div class="t" id="an4" style="top:640.20px;font-size:18.67px;line-height:18.67px;font-weight:400;color:#111;letter-spacing:0.790px;font-family:'Liberation Sans',sans-serif;left:584.70px;"><span>melewati periode musim haji di Indonesia.</span></div>
<div class="t" id="bu0" style="top:550.20px;font-size:18.67px;line-height:18.67px;font-weight:400;color:#111;letter-spacing:0.000px;font-family:'Liberation Sans',sans-serif;left:555.00px;"><span>•</span></div>
<div class="t" id="bu3" style="top:617.70px;font-size:18.67px;line-height:18.67px;font-weight:400;color:#111;letter-spacing:0.000px;font-family:'Liberation Sans',sans-serif;left:555.00px;"><span>•</span></div>
</body></html>
